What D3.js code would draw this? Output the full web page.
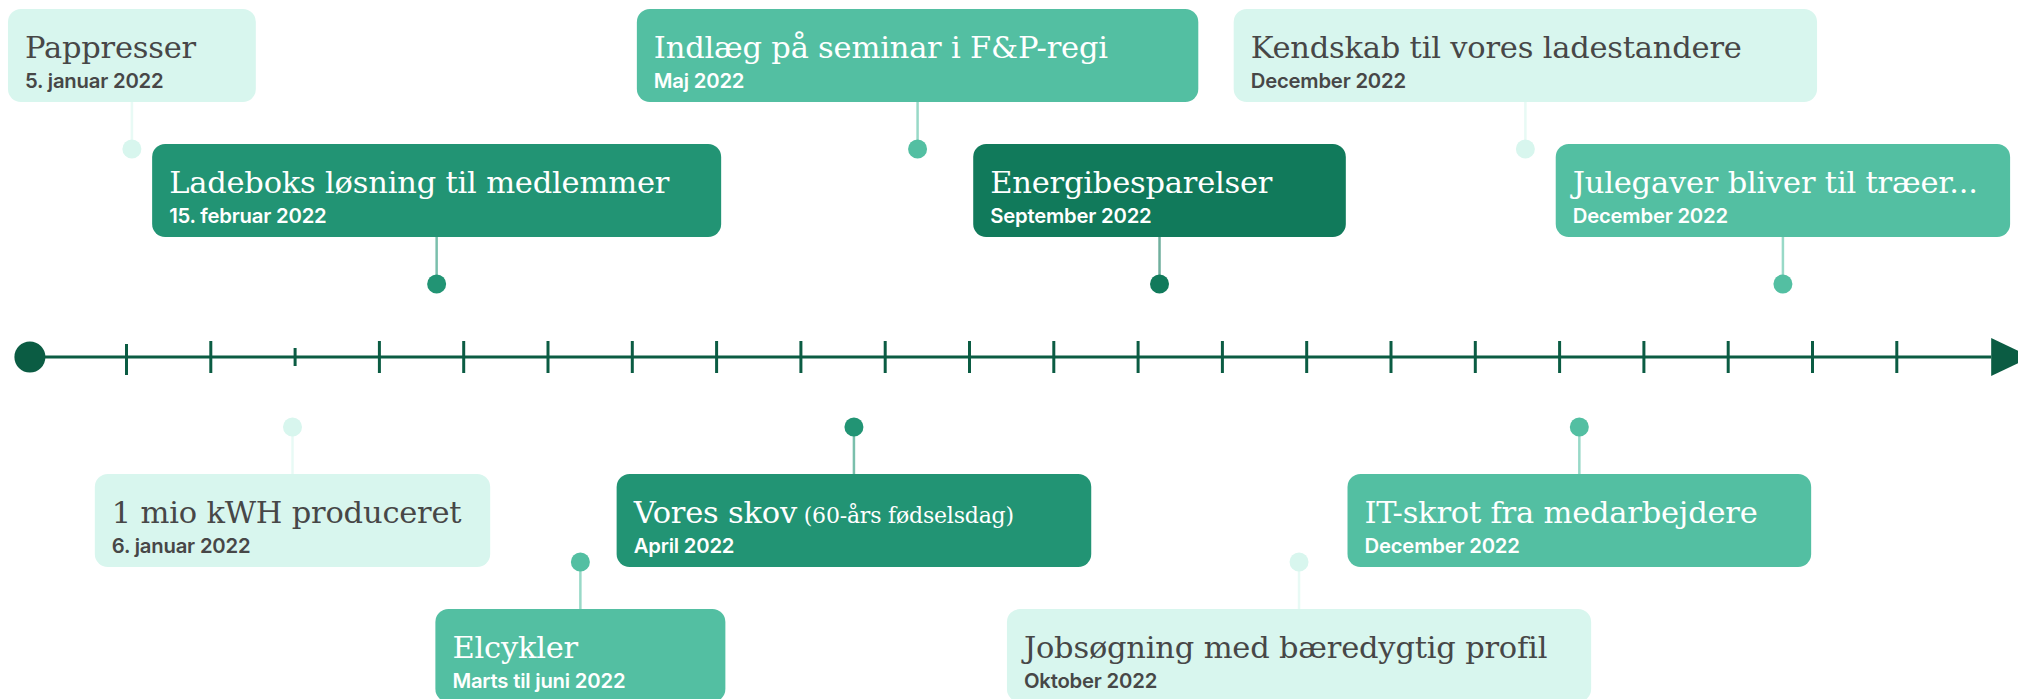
<!DOCTYPE html>
<html>
<head>
<meta charset="utf-8">
<script src="https://cdn.jsdelivr.net/npm/d3@7"></script>
<style>
  html, body { margin: 0; padding: 0; background: #fff; }
  svg { display: block; }
  .title { font-family: "DejaVu Serif", serif; font-size: 30.5px; letter-spacing: -0.2px; }
  .note { font-size: 22px; }
  .date { font-family: Inter, "Noto Sans", sans-serif; font-weight: 600; font-size: 20.3px; letter-spacing: -0.2px; }
</style>
</head>
<body>
<svg id="timeline" width="2018" height="699"></svg>
<script>
// events of the year
const titles = [
  "Pappresser", "Ladeboks løsning til medlemmer", "Indlæg på seminar i F&P-regi",
  "Energibesparelser", "Kendskab til vores ladestandere", "Julegaver bliver til træer...",
  "1 mio kWH produceret", "Elcykler", "Vores skov",
  "Jobsøgning med bæredygtig profil", "IT-skrot fra medarbejdere"
];
const notes = ["", "", "", "", "", "", "", "", "(60-års fødselsdag)", "", ""];
const dates = [
  "5. januar 2022", "15. februar 2022", "Maj 2022",
  "September 2022", "December 2022", "December 2022",
  "6. januar 2022", "Marts til juni 2022", "April 2022",
  "Oktober 2022", "December 2022"
];
// span of each card, in tick units along the axis
const spanStart = [-0.40, 1.31, 7.06, 11.05, 14.14, 17.96, 0.63, 4.67, 6.82, 11.45, 15.49];
const spanEnd   = [ 2.54, 8.06, 13.72, 15.47, 21.06, 23.35, 5.32, 8.11, 12.45, 18.38, 20.99];
const lanes = ["top1", "top2", "top1", "top2", "top1", "top2", "bottom1", "bottom2", "bottom1", "bottom2", "bottom1"];
const kinds = ["pale", "deep", "mid", "dark", "pale", "mid", "pale", "mid", "deep", "pale", "mid"];

// axis
const tickValues = d3.range(1, 23);
const shortTicks = [3];
const axisStart = -0.14;
const axisEnd = 23.6;

const svg = d3.select("#timeline");
const axisY = 357;
const axisColor = "#0b5c43";
const boxH = 93;
const stem = 47;

let x = d3.scaleLinear().domain([0, 22]).range([41.7, 1896.3]);

let laneTop = d3.scaleOrdinal()
  .domain(["top1", "top2", "bottom1", "bottom2"])
  .range([9, 144, 474, 609]);

let fill = d3.scaleOrdinal()
  .domain(["pale", "mid", "deep", "dark"])
  .range(["#d8f6ee", "#53bfa2", "#229474", "#117a5b"]);

let ink = d3.scaleOrdinal()
  .domain(["pale", "mid", "deep", "dark"])
  .range(["#474747", "#ffffff", "#ffffff", "#ffffff"]);

let events = titles.map((t, i) => ({
  title: t,
  note: notes[i],
  date: dates[i],
  start: spanStart[i],
  end: spanEnd[i],
  lane: lanes[i],
  kind: kinds[i]
}));

// main line + arrow
let arrowBase = x(axisEnd) - 40;
svg.append("line")
  .attr("x1", x(axisStart))
  .attr("x2", arrowBase)
  .attr("y1", axisY)
  .attr("y2", axisY)
  .attr("stroke", axisColor)
  .attr("stroke-width", 3);

svg.append("path")
  .attr("d", `M${arrowBase},${axisY - 19}L${x(axisEnd)},${axisY}L${arrowBase},${axisY + 19}Z`)
  .attr("fill", axisColor);

svg.append("circle")
  .attr("cx", x(axisStart))
  .attr("cy", axisY)
  .attr("r", 15.5)
  .attr("fill", axisColor);

let axis = d3.axisBottom(x).tickValues(tickValues).tickSize(32).tickFormat("");
let gAxis = svg.append("g")
  .attr("transform", `translate(0,${axisY - 16})`)
  .call(axis);
gAxis.select(".domain").remove();
gAxis.selectAll(".tick line")
  .attr("stroke", axisColor)
  .attr("stroke-width", 3);
gAxis.selectAll(".tick line")
  .filter(d => shortTicks.includes(d))
  .attr("y1", 7)
  .attr("y2", 25);
gAxis.selectAll(".tick line")
  .filter(d => d === tickValues[0])
  .attr("y1", 3)
  .attr("y2", 34);

// cards
let cards = svg.selectAll("g.card")
  .data(events)
  .join("g")
  .attr("class", "card");

let isTop = d => d.lane.startsWith("top");
let mid = d => (x(d.start) + x(d.end)) / 2;
let edgeY = d => isTop(d) ? laneTop(d.lane) + boxH : laneTop(d.lane);
let dotY = d => isTop(d) ? edgeY(d) + stem : edgeY(d) - stem;

cards.append("line")
  .attr("x1", mid)
  .attr("x2", mid)
  .attr("y1", edgeY)
  .attr("y2", dotY)
  .attr("stroke", d => fill(d.kind))
  .attr("stroke-opacity", 0.6)
  .attr("stroke-width", 2.5);

cards.append("circle")
  .attr("cx", mid)
  .attr("cy", dotY)
  .attr("r", 9.5)
  .attr("fill", d => fill(d.kind));

cards.append("rect")
  .attr("x", d => x(d.start))
  .attr("y", d => laneTop(d.lane))
  .attr("width", d => x(d.end) - x(d.start))
  .attr("height", boxH)
  .attr("rx", 13)
  .attr("fill", d => fill(d.kind));

let title = cards.append("text")
  .attr("class", "title")
  .attr("x", d => x(d.start) + 17)
  .attr("y", d => laneTop(d.lane) + 48.5)
  .attr("fill", d => ink(d.kind))
  .text(d => d.title);

title.filter(d => d.note !== "")
  .append("tspan")
  .attr("class", "note")
  .text(d => " " + d.note);

cards.append("text")
  .attr("class", "date")
  .attr("x", d => x(d.start) + 17)
  .attr("y", d => laneTop(d.lane) + 78.5)
  .attr("fill", d => ink(d.kind))
  .text(d => d.date);
</script>
</body>
</html>
